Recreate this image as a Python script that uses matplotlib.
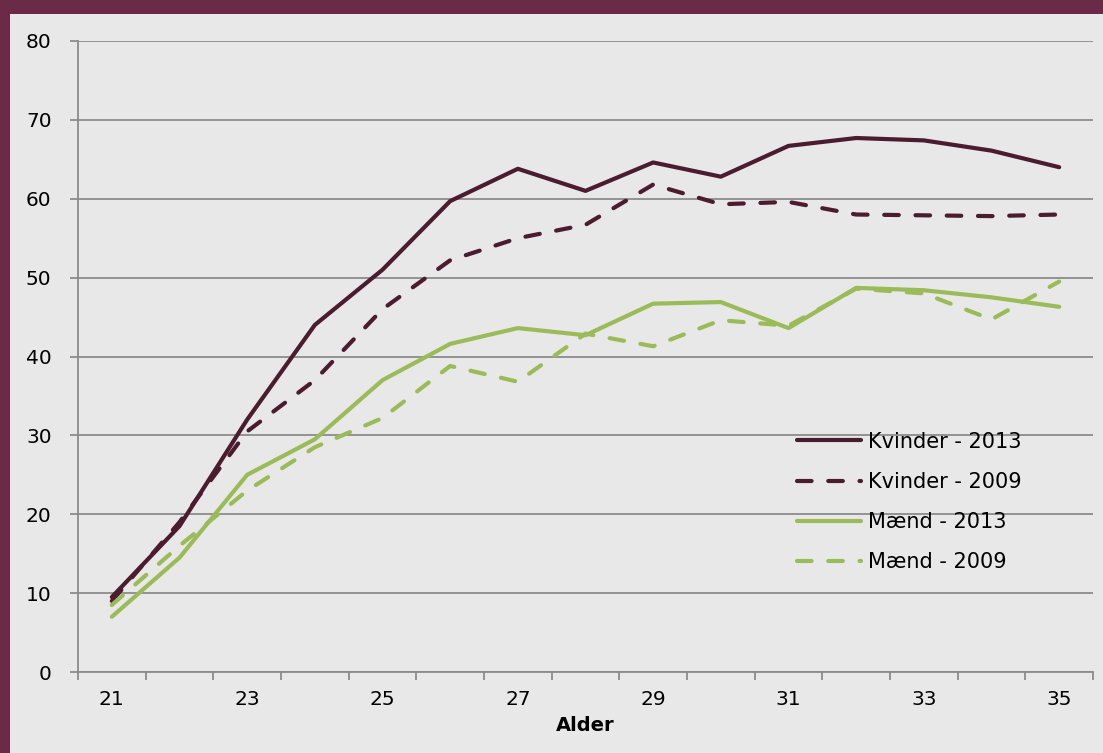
import matplotlib
matplotlib.use("Agg")
import matplotlib.pyplot as plt
from matplotlib.patches import Rectangle
import numpy as np

alder = list(range(21, 36))
kvinder_2013 = [9.5, 18.5, 32.0, 44.0, 51.0, 59.7, 63.8, 61.0, 64.6, 62.8, 66.7, 67.7, 67.4, 66.1, 64.0]
kvinder_2009 = [9.0, 19.0, 30.5, 37.0, 46.0, 52.2, 55.0, 56.7, 61.8, 59.3, 59.6, 58.0, 57.9, 57.8, 58.0]
maend_2013 = [7.0, 14.5, 25.0, 29.5, 37.0, 41.6, 43.6, 42.7, 46.7, 46.9, 43.6, 48.7, 48.4, 47.5, 46.3]
maend_2009 = [8.5, 16.0, 23.0, 28.5, 32.2, 38.8, 36.8, 42.9, 41.3, 44.6, 43.9, 48.6, 48.0, 44.7, 49.5]

bg = "#e8e8e8"
maroon = "#4a1c2e"
green = "#9bbb59"
border = "#6b2b48"
grid = "#8c8c8c"

fig = plt.figure(figsize=(11.03, 7.53), dpi=100, facecolor=bg)
fig.patches.append(Rectangle((0, 1 - 14 / 753), 1, 14 / 753, transform=fig.transFigure,
                             facecolor=border, edgecolor="none", zorder=0))
fig.patches.append(Rectangle((0, 0), 10 / 1103, 1, transform=fig.transFigure,
                             facecolor=border, edgecolor="none", zorder=0))

ax = fig.add_axes([78 / 1103, 81 / 753, 1015 / 1103, 631 / 753])
ax.set_facecolor(bg)

x = np.arange(len(alder))
lw = 3.0
ax.plot(x, kvinder_2013, color=maroon, lw=lw, solid_capstyle="round", label="Kvinder - 2013")
l, = ax.plot(x, kvinder_2009, color=maroon, lw=lw, dash_capstyle="round", label="Kvinder - 2009")
l.set_dashes([3.5, 4])
ax.plot(x, maend_2013, color=green, lw=lw, solid_capstyle="round", label="Mænd - 2013")
l, = ax.plot(x, maend_2009, color=green, lw=lw, dash_capstyle="round", label="Mænd - 2009")
l.set_dashes([3.5, 4])

ax.set_xlim(-0.5, len(alder) - 0.5)
ax.set_ylim(0, 80)
ax.set_yticks(range(0, 81, 10))
ax.yaxis.grid(True, color=grid, lw=1.3)
ax.set_axisbelow(True)

# category axis: tick marks between categories, labels every other
ax.set_xticks(np.arange(-0.5, len(alder), 1))
ax.set_xticklabels([])
ax.set_xticks(x[::2], minor=True)
ax.set_xticklabels([str(a) for a in alder[::2]], minor=True)
ax.tick_params(axis="x", which="major", length=6, width=1.3, color=grid, direction="out")
ax.tick_params(axis="x", which="minor", length=0, pad=13, labelsize=14.5)
ax.tick_params(axis="y", length=6, width=1.3, color=grid, labelsize=14.5, pad=13)

for s in ["top", "right"]:
    ax.spines[s].set_visible(False)
ax.spines["left"].set_color(grid)
ax.spines["bottom"].set_color(grid)
ax.spines["left"].set_linewidth(1.3)
ax.spines["bottom"].set_linewidth(1.3)

ax.set_xlabel("Alder", fontsize=14, fontweight="bold", labelpad=5)

ax.legend(loc="upper left", bbox_to_anchor=(0.70, 0.394), borderaxespad=0, frameon=False,
          fontsize=15, handlelength=3.1, labelspacing=0.97, handletextpad=0.3)

fig.savefig("out.png", dpi=100, facecolor=bg)
